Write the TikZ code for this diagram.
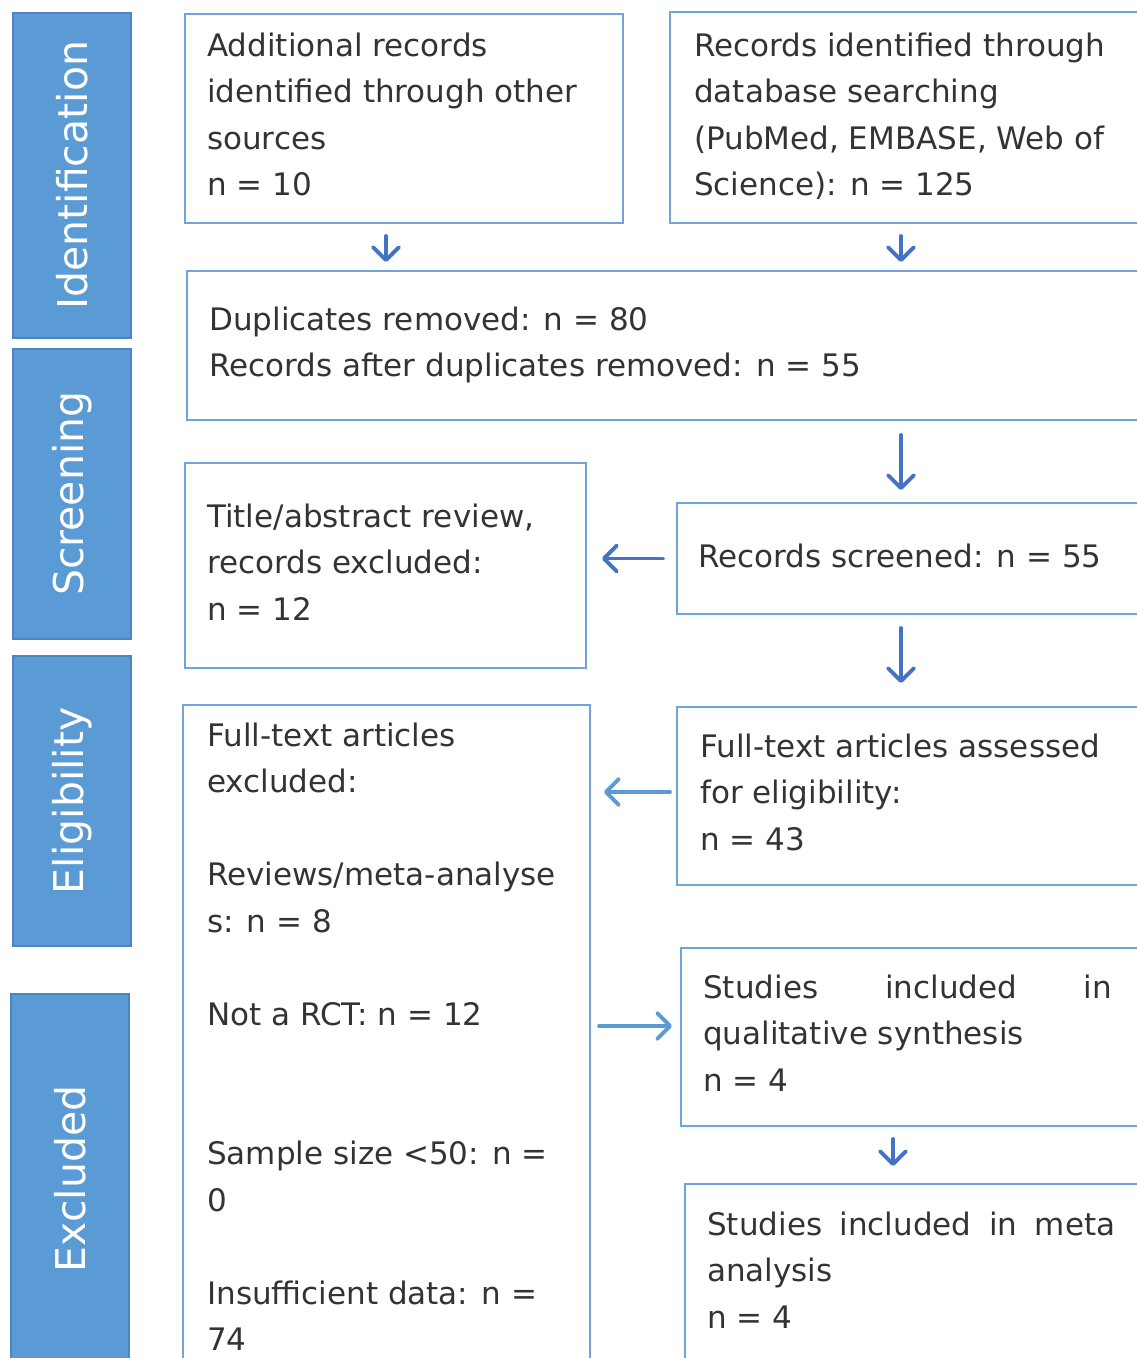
\documentclass[tikz,border=0pt]{standalone}
\usepackage{fontspec}
\setmainfont{DejaVu Sans}
\usetikzlibrary{arrows.meta}

\definecolor{barblue}{HTML}{5B9BD5}
\definecolor{baredge}{HTML}{4A86C0}
\definecolor{boxblue}{HTML}{6FA5DC}
\definecolor{arrblue}{HTML}{4472C4}
\definecolor{arrlight}{HTML}{5B9BD5}
\definecolor{textgray}{HTML}{333333}

\tikzset{
  phase/.style={draw=baredge, fill=barblue, line width=1.5pt, anchor=north west, inner sep=0pt},
  phasetext/.style={text=white, rotate=90, inner sep=0pt, font=\fontsize{41}{41}\selectfont},
  box/.style={draw=boxblue, line width=2pt, anchor=north west, inner sep=0pt},
  boxtext/.style={anchor=north west, inner sep=0pt, align=left, text=textgray, font=\fontsize{31}{46.5}\selectfont},
  flow/.style={draw=arrblue, line width=3.8pt, line cap=round, -{Straight Barb[length=13pt,width=26pt,round]}},
  flowlight/.style={flow, draw=arrlight},
}

\begin{document}
\begin{tikzpicture}[x=1pt,y=-1pt]
\useasboundingbox (0,0) rectangle (1137,1358);
\clip (0,0) rectangle (1137,1358);

% phase bars
\node[phase, minimum width=118pt, minimum height=325pt] (ident) at (12,12) {};
\node[phasetext] (ident-t) at (ident.center) {Identification};
\node[phase, minimum width=118pt, minimum height=290pt] (screen) at (12,348) {};
\node[phasetext] (screen-t) at (screen.center) {Screening};
\node[phase, minimum width=118pt, minimum height=290pt] (elig) at (12,655) {};
\node[phasetext] (elig-t) at (elig.center) {Eligibility};
\node[phase, minimum width=118pt, minimum height=370pt] (excl) at (10,993) {};
\node[phasetext] (excl-t) at (excl.center) {Excluded};

% boxes
\node[box, minimum width=438pt, minimum height=209pt] (addl) at (184,13) {};
\node[boxtext] (addl-t) at (207,32.4) {Additional records\\identified through other\\sources\\n = 10};
\node[box, minimum width=500pt, minimum height=211pt] (db) at (669,11) {};
\node[boxtext] (db-t) at (694,32.4) {Records identified through\\database searching\\(PubMed, EMBASE, Web of\\Science): n = 125};
\node[box, minimum width=980pt, minimum height=149pt] (dup) at (186,270) {};
\node[boxtext] (dup-t) at (209,306.4) {Duplicates removed: n = 80\\Records after duplicates removed: n = 55};
\node[box, minimum width=401pt, minimum height=205pt] (title) at (184,462) {};
\node[boxtext] (title-t) at (207,503.4) {Title/abstract review,\\records excluded:\\n = 12};
\node[box, minimum width=490pt, minimum height=111pt] (screened) at (676,502) {};
\node[boxtext] (screened-t) at (698,543.4) {Records screened: n = 55};
\node[box, minimum width=407pt, minimum height=700pt] (ftexcl) at (182,704) {};
\node[boxtext] (ftexcl-t) at (207,722.4) {Full-text articles\\excluded:\\\mbox{}\\Reviews/meta-analyse\\s: n = 8\\\mbox{}\\Not a RCT: n = 12\\\mbox{}\\\mbox{}\\Sample size <50: n =\\0\\\mbox{}\\Insufficient data: n =\\74};
\node[box, minimum width=490pt, minimum height=178pt] (ftassess) at (676,706) {};
\node[boxtext] (ftassess-t) at (700,733.4) {Full-text articles assessed\\for eligibility:\\n = 43};
\node[box, minimum width=490pt, minimum height=178pt] (qual) at (680,947) {};
\node[boxtext] (qual-t) at (703,974.4) {\makebox[409pt][s]{Studies included in}\\qualitative synthesis\\n = 4};
\node[box, minimum width=490pt, minimum height=250pt] (meta) at (684,1183) {};
\node[boxtext] (meta-t) at (707,1211.4) {\makebox[408pt][s]{Studies included in meta}\\analysis\\n = 4};

% arrows
\coordinate (lcol) at (386,0);
\coordinate (rcol) at (901,0);
\coordinate (qcol) at (893,0);
\coordinate (qin) at ([yshift=11pt]qual.west);
\coordinate (fin) at ([yshift=4pt]ftassess.west);
\draw[flow, shorten <=12pt, shorten >=8pt] (addl.south -| lcol) -- (dup.north -| lcol);
\draw[flow, shorten <=12pt, shorten >=8pt] (db.south -| rcol) -- (dup.north -| rcol);
\draw[flow, shorten <=14pt, shorten >=12pt] (dup.south -| rcol) -- (screened.north -| rcol);
\draw[flow, shorten <=13pt, shorten >=15pt] (screened.west) -- (title.east |- screened.west);
\draw[flow, shorten <=13pt, shorten >=23pt] (screened.south -| rcol) -- (ftassess.north -| rcol);
\draw[flowlight, shorten <=6pt, shorten >=13pt] (fin) -- (ftexcl.east |- fin);
\draw[flowlight, shorten <=8pt, shorten >=8pt] (ftexcl.east |- qin) -- (qin);
\draw[flow, shorten <=12pt, shorten >=17pt] (qual.south -| qcol) -- (meta.north -| qcol);
\end{tikzpicture}
\end{document}
